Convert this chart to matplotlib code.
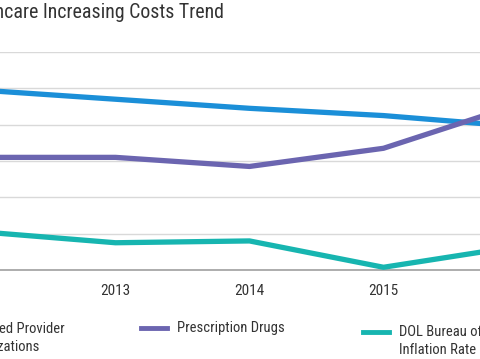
import matplotlib
matplotlib.use("Agg")
import matplotlib.pyplot as plt
from matplotlib import font_manager
from matplotlib.lines import Line2D

# data (percent change per year)
years = [2012, 2013, 2014, 2015, 2016]
provider = [9.9, 9.4, 8.9, 8.5, 7.9]
drugs = [6.2, 6.2, 5.7, 6.7, 9.1]
inflation = [2.1, 1.5, 1.6, 0.15, 1.3]
series_names = ["Preferred Provider\nOrganizations", "Prescription Drugs",
                "DOL Bureau of Labor Statistics\nInflation Rate"]
colors = ["#1b8fd8", "#6b65b0", "#17b5b0"]
tick_years = [2013, 2014, 2015]

# condensed face like the original, first one that is installed
names = {f.name for f in font_manager.fontManager.ttflist}
font = "Roboto"
for cand in ["Roboto Condensed", "Fira Sans Condensed", "Barlow Semi Condensed",
             "Liberation Sans Narrow"]:
    if cand in names:
        font = cand
        break
plt.rcParams["font.family"] = [font, "DejaVu Sans"]

W, H = 480, 359
fig = plt.figure(figsize=(W / 100, H / 100), dpi=100)

# axes spans the whole width, the chart is cropped on both sides
x0 = 2013 - 115.5 / 134
x1 = 2013 + (W - 115.5) / 134
ax = fig.add_axes([0, (H - 270) / H, 1, 218 / H])
ax.set_xlim(x0, x1)
ax.set_ylim(0, 12)

for vals, c in zip([provider, drugs, inflation], colors):
    ax.plot(years, vals, color=c, lw=3.8, solid_capstyle="butt", zorder=3)

ax.set_yticks(range(0, 13, 2))
ax.grid(axis="y", color="#d9d9d9", lw=1.0)
ax.set_axisbelow(True)
for s in ["top", "left", "right"]:
    ax.spines[s].set_visible(False)
ax.spines["bottom"].set_color("#a0a0a0")
ax.spines["bottom"].set_linewidth(1.2)
ax.set_xticks(tick_years)
ax.set_xticklabels([str(y) for y in tick_years])
ax.tick_params(axis="x", length=0, pad=10, labelsize=11, labelcolor="#333333")
ax.tick_params(axis="y", length=0, labelleft=False)

# title, cut off on the left
fig.text(224 / W, 1 - 18.5 / H, "Healthcare Increasing Costs Trend", ha="right",
         va="baseline", fontsize=14.3, color="#333333")

# legend row under the chart
legend_x = [-41, 177, 399]
legend_y = [330, 329, 333]
for name, c, tx, ty in zip(series_names, colors, legend_x, legend_y):
    fig.add_artist(Line2D([(tx - 36) / W, (tx - 10) / W], [1 - (ty - 1) / H] * 2,
                          color=c, lw=3.5, transform=fig.transFigure))
    fig.text(tx / W, 1 - (ty - 8) / H, name, ha="left", va="top",
             fontsize=10.5, color="#333333", linespacing=1.36)

fig.savefig("out.png", dpi=100)
